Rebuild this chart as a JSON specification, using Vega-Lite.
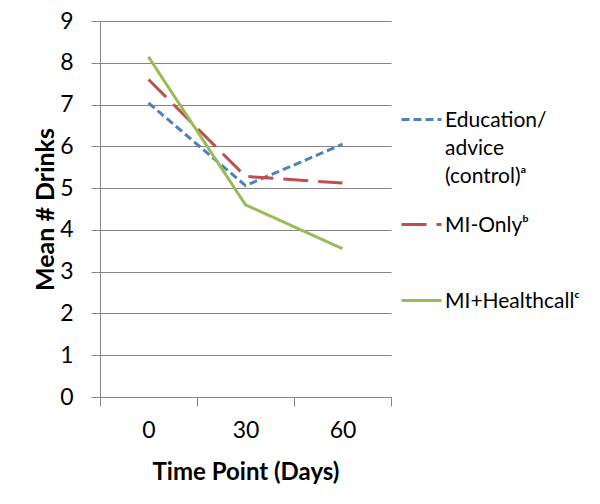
{
  "$schema": "https://vega.github.io/schema/vega-lite/v6.json",
  "width": 291,
  "height": 376,
  "autosize": {"type": "none"},
  "padding": {"left": 100, "top": 21, "right": 209, "bottom": 107},
  "background": "white",
  "config": {
    "view": {"stroke": null},
    "font": "Lato",
    "axis": {
      "labelFont": "Lato",
      "titleFont": "Lato",
      "labelColor": "#000000",
      "titleColor": "#000000",
      "domainColor": "#868686",
      "tickColor": "#868686",
      "gridColor": "#868686",
      "domainWidth": 1,
      "tickWidth": 1,
      "gridWidth": 1
    },
    "legend": {
      "labelFont": "Lato",
      "padding": 0
    }
  },
  "data": {
    "values": [
      {"group": "Education/advice (control)", "day": "0", "drinks": 7.04},
      {"group": "Education/advice (control)", "day": "30", "drinks": 5.06},
      {"group": "Education/advice (control)", "day": "60", "drinks": 6.05},
      {"group": "MI-Only", "day": "0", "drinks": 7.6},
      {"group": "MI-Only", "day": "30", "drinks": 5.28},
      {"group": "MI-Only", "day": "60", "drinks": 5.12},
      {"group": "MI+Healthcall", "day": "0", "drinks": 8.14},
      {"group": "MI+Healthcall", "day": "30", "drinks": 4.6},
      {"group": "MI+Healthcall", "day": "60", "drinks": 3.55}
    ]
  },
  "mark": {"type": "line", "strokeWidth": 3},
  "encoding": {
    "x": {
      "field": "day",
      "type": "ordinal",
      "sort": ["0", "30", "60"],
      "scale": {"type": "band", "paddingInner": 0, "paddingOuter": 0},
      "axis": {
        "title": "Time Point (Days)",
        "titleFontSize": 24,
        "titleFontWeight": "bold",
        "titlePadding": 18,
        "labelFontSize": 23,
        "labelAngle": 0,
        "labelPadding": 13,
        "tickSize": 9,
        "tickBand": "extent",
        "grid": false
      }
    },
    "y": {
      "field": "drinks",
      "type": "quantitative",
      "scale": {"domain": [0, 9], "nice": false, "zero": true},
      "axis": {
        "title": "Mean # Drinks",
        "titleFontSize": 25,
        "titleFontWeight": "bold",
        "titlePadding": 1,
        "labelFontSize": 23,
        "labelPadding": 18,
        "tickSize": 9,
        "values": [0, 1, 2, 3, 4, 5, 6, 7, 8, 9],
        "grid": true
      }
    },
    "color": {
      "field": "group",
      "type": "nominal",
      "scale": {
        "domain": ["Education/advice (control)", "MI-Only", "MI+Healthcall"],
        "range": ["#4F81BD", "#C0504D", "#9BBB59"]
      },
      "legend": {
        "title": null,
        "orient": "none",
        "legendX": 300,
        "legendY": 77,
        "symbolType": "stroke",
        "symbolSize": 1600,
        "symbolStrokeWidth": 3,
        "labelFontSize": 21,
        "labelColor": "#000000",
        "labelLimit": 0,
        "labelOffset": 2,
        "labelBaseline": "alphabetic",
        "rowPadding": 16,
        "labelExpr": "datum.value == 'MI-Only' ? ['MI-Onlyᵇ', ''] : datum.value == 'MI+Healthcall' ? 'MI+Healthcallᶜ' : ['Education/', 'advice', '(control)ᵃ']",
        "encode": {"labels": {"update": {"dy": {"value": 7}, "lineHeight": {"signal": "datum.value == 'MI-Only' ? 27 : 28"}}}}
      }
    },
    "strokeDash": {
      "field": "group",
      "type": "nominal",
      "scale": {
        "domain": ["Education/advice (control)", "MI-Only", "MI+Healthcall"],
        "range": [[8, 4], [25, 10], [1, 0]]
      },
      "legend": {
        "title": null,
        "orient": "none",
        "legendX": 300,
        "legendY": 77,
        "symbolType": "stroke",
        "symbolSize": 1600,
        "symbolStrokeWidth": 3,
        "labelFontSize": 21,
        "labelColor": "#000000",
        "labelLimit": 0,
        "labelOffset": 2,
        "labelBaseline": "alphabetic",
        "rowPadding": 16,
        "labelExpr": "datum.value == 'MI-Only' ? ['MI-Onlyᵇ', ''] : datum.value == 'MI+Healthcall' ? 'MI+Healthcallᶜ' : ['Education/', 'advice', '(control)ᵃ']",
        "encode": {"labels": {"update": {"dy": {"value": 7}, "lineHeight": {"signal": "datum.value == 'MI-Only' ? 27 : 28"}}}}
      }
    }
  }
}
